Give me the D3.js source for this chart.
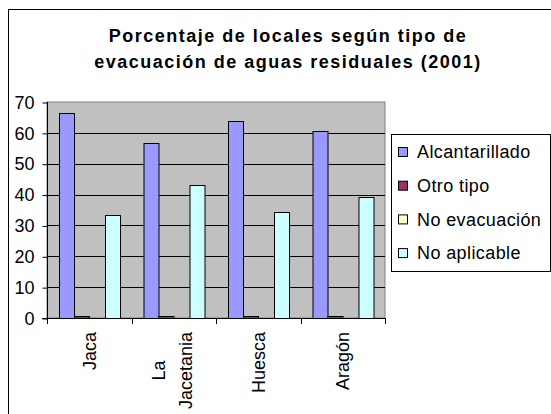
<!DOCTYPE html>
<html>
<head>
<meta charset="utf-8">
<script src="https://cdn.jsdelivr.net/npm/d3@7"></script>
<style>
  body { margin: 0; background: #fff; }
  text { font-family: "Liberation Sans", Arial, sans-serif; }
</style>
</head>
<body>
<script>
// datos
var categorias = ["Jaca", "La Jacetania", "Huesca", "Aragón"];
var series = ["Alcantarillado", "Otro tipo", "No evacuación", "No aplicable"];
var alcantarillado = [66.4, 56.6, 63.9, 60.6];
var otroTipo = [0.5, 0.5, 0.5, 0.5];
var noEvacuacion = [0, 0, 0, 0];
var noAplicable = [33.3, 43.0, 34.4, 39.1];
var ticksY = [0, 10, 20, 30, 40, 50, 60, 70];
var colores = ["#9999FF", "#993366", "#FFFFCC", "#CCFFFF"];

var valores = [alcantarillado, otroTipo, noEvacuacion, noAplicable];

var ancho = 551, alto = 414;
var izq = 47, der = 385, arriba = 102, abajo = 318;

var svg = d3.select("body")
  .append("svg")
  .attr("width", ancho)
  .attr("height", alto);

// marco exterior (se sale por la derecha y abajo)
svg.append("rect")
  .attr("x", 8.5).attr("y", 9.5)
  .attr("width", 700).attr("height", 600)
  .attr("fill", "#fff")
  .attr("stroke", "#000")
  .attr("stroke-width", 1);

// titulo
var titulo = svg.append("text")
  .attr("text-anchor", "middle")
  .attr("font-weight", "bold")
  .attr("font-size", 18)
  .attr("letter-spacing", 1.5);
titulo.append("tspan").attr("x", 288).attr("y", 42).text("Porcentaje de locales según tipo de");
titulo.append("tspan").attr("x", 288).attr("y", 68).text("evacuación de aguas residuales (2001)");

var escalaY = d3.scaleLinear().domain([0, 70]).range([abajo, arriba]);
var escalaX = d3.scaleBand().domain(categorias).range([izq, der]).padding(0);
var gap = escalaX.bandwidth() * 1.5 / 5.5;
var escalaSerie = d3.scaleBand().domain(series)
  .range([gap / 2, escalaX.bandwidth() - gap / 2]).padding(0);

// fondo del area de grafico
svg.append("rect")
  .attr("x", izq).attr("y", arriba)
  .attr("width", der - izq).attr("height", abajo - arriba)
  .attr("fill", "#C0C0C0")
  .attr("stroke", "#808080");

// lineas de division
svg.selectAll("line.grid")
  .data(ticksY.filter(function(d) { return d > 0 && d < 70; }))
  .enter()
  .append("line")
  .attr("class", "grid")
  .attr("x1", izq).attr("x2", der)
  .attr("y1", function(d) { return Math.round(escalaY(d)) + 0.5; })
  .attr("y2", function(d) { return Math.round(escalaY(d)) + 0.5; })
  .attr("stroke", "#000");

// barras
var grupos = svg.selectAll("g.cat")
  .data(categorias)
  .enter()
  .append("g")
  .attr("transform", function(d) { return "translate(" + escalaX(d) + ",0)"; });

grupos.selectAll("rect")
  .data(function(d, i) {
    return series.map(function(s, j) { return { serie: s, valor: valores[j][i], j: j }; });
  })
  .enter()
  .append("rect")
  .attr("x", function(d) { return Math.round(escalaSerie(d.serie)) + 0.5; })
  .attr("width", Math.round(escalaSerie.bandwidth()))
  .attr("y", function(d) { return Math.round(escalaY(d.valor)) + 0.5; })
  .attr("height", function(d) { return Math.max(0, Math.round(abajo - escalaY(d.valor))); })
  .attr("fill", function(d) { return colores[d.j]; })
  .attr("stroke", function(d) { return d.valor > 0 ? "#000" : "none"; });

// eje Y
var ejeY = svg.append("g")
  .attr("transform", "translate(" + (izq + 0.5) + ",0.5)")
  .call(d3.axisLeft(escalaY).tickValues(ticksY).tickSize(5).tickPadding(8));
ejeY.selectAll("text").attr("font-size", 18).attr("font-family", "Liberation Sans, Arial, sans-serif").attr("fill", "#000");
ejeY.select(".domain").remove();
svg.append("line")
  .attr("x1", izq + 0.5).attr("x2", izq + 0.5)
  .attr("y1", arriba).attr("y2", abajo + 1)
  .attr("stroke", "#000");

// eje X
svg.append("line")
  .attr("x1", izq - 5).attr("x2", der + 1)
  .attr("y1", abajo + 0.5).attr("y2", abajo + 0.5)
  .attr("stroke", "#000");
svg.selectAll("line.tickx")
  .data(categorias.concat(["fin"]))
  .enter()
  .append("line")
  .attr("x1", function(d, i) { return Math.round(izq + i * escalaX.bandwidth()) + 0.5; })
  .attr("x2", function(d, i) { return Math.round(izq + i * escalaX.bandwidth()) + 0.5; })
  .attr("y1", abajo).attr("y2", abajo + 6)
  .attr("stroke", "#000");

// etiquetas de categoria giradas (lineas centradas entre si)
var etiquetas = svg.selectAll("g.etq")
  .data(categorias)
  .enter()
  .append("g")
  .attr("transform", function(d) {
    var dx = d === "La Jacetania" ? -2 : 0;
    return "translate(" + (escalaX(d) + escalaX.bandwidth() / 2 + dx) + "," + (abajo + 14) + ") rotate(-90)";
  });
etiquetas.each(function(d) {
  var partes = d === "La Jacetania" ? ["La", "Jacetania"] : [d];
  var t = d3.select(this).append("text")
    .attr("text-anchor", "middle")
    .attr("font-size", 18)
    .attr("fill", "#000");
  var spans = partes.map(function(p, k) {
    var off = (k - (partes.length - 1) / 2) * 27;
    return t.append("tspan").attr("y", off).attr("dy", "0.35em").text(p);
  });
  var maxAncho = d3.max(spans, function(s) { return s.node().getComputedTextLength(); });
  spans.forEach(function(s) { s.attr("x", -maxAncho / 2); });
});

// leyenda
svg.append("rect")
  .attr("x", 391.5).attr("y", 134.5)
  .attr("width", 159).attr("height", 137)
  .attr("fill", "#fff")
  .attr("stroke", "#000");
var leyenda = svg.selectAll("g.ley")
  .data(series)
  .enter()
  .append("g")
  .attr("transform", function(d, i) { return "translate(398," + (152 + i * 33.7) + ")"; });
leyenda.append("rect")
  .attr("x", 0.5).attr("y", -4.5)
  .attr("width", 9).attr("height", 9)
  .attr("fill", function(d, i) { return colores[i]; })
  .attr("stroke", "#000");
leyenda.append("text")
  .attr("x", 19).attr("y", 0).attr("dy", "0.35em")
  .attr("font-size", 18)
  .attr("letter-spacing", 0.4)
  .text(function(d) { return d; });
</script>
</body>
</html>
